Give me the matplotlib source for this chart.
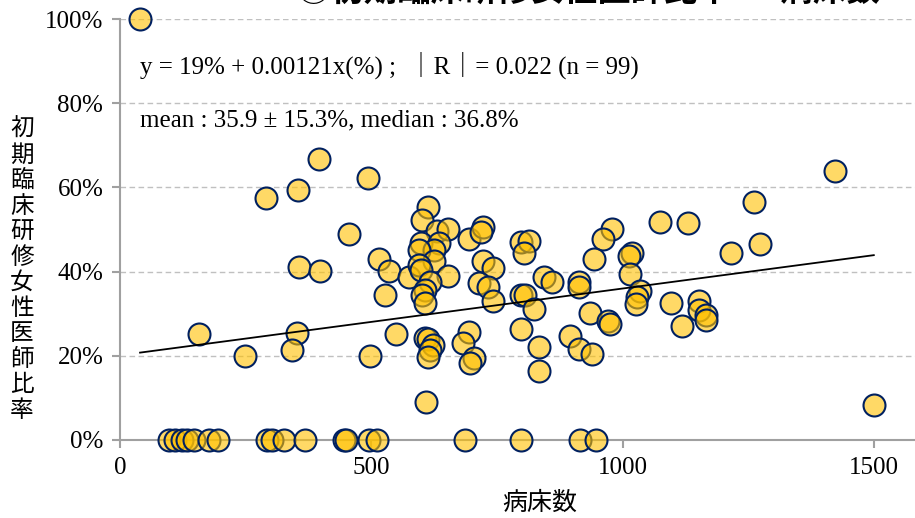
import matplotlib
matplotlib.use("Agg")
import matplotlib.pyplot as plt
import numpy as np
from matplotlib.ticker import FuncFormatter

# Colors
point_face = (1.0, 0.753, 0.0, 0.6)
point_edge = '#002060'
grid_color = '#c0c0c0'
spine_color = '#a0a0a0'

latin = ['Liberation Serif', 'Noto Sans CJK JP']
cjk = ['Noto Sans CJK JP', 'DejaVu Sans']

# beds per hospital / share of female junior residents (%)
beds = [
    40, 291, 355, 396, 493, 455, 357, 398, 157, 248, 353, 342, 516, 536, 527, 549, 498, 576,
    612, 601, 630, 652, 599, 635, 625, 596, 625, 596, 599, 652, 616, 606, 602, 606,
    606, 612, 622, 616, 612, 609,
    694, 722, 718, 722, 742, 715, 732, 742, 695, 682, 705, 697,
    798, 813, 803, 843, 860, 798, 805, 823, 798, 833, 833,
    979, 962, 944, 1019, 1012, 1014, 1034, 1028, 1027, 1097, 1119, 1152, 1153, 1166, 1166,
    914, 914, 936, 971, 976, 896, 914, 939, 1074, 1131,
    1262, 1274, 1216, 1422, 1500,
    98, 110, 124, 133, 147, 177, 195, 293, 303, 327, 369, 446, 450, 496, 512, 687, 799, 916, 948,
]
ratio = [
    100, 57.4, 59.3, 66.7, 62.2, 49.0, 41.0, 40.1, 25.1, 20.0, 25.3, 21.4, 43.0, 40.1, 34.4, 25.2, 20.0, 38.6,
    55.3, 52.3, 49.6, 50.1, 46.7, 46.7, 45.1, 45.1, 42.4, 41.6, 40.4, 39.0, 37.6, 35.6, 34.4, 32.6,
    24.2, 23.9, 22.6, 21.4, 19.8, 9.0,
    47.7, 50.7, 49.5, 42.5, 40.8, 37.2, 36.3, 32.9, 25.7, 23.0, 19.4, 18.2,
    47.1, 47.3, 44.3, 38.8, 37.6, 34.4, 34.4, 31.0, 26.4, 22.0, 16.5,
    50.1, 47.7, 42.9, 44.3, 43.7, 39.4, 35.4, 34.0, 32.3, 32.6, 27.1, 32.9, 30.9, 29.7, 28.5,
    37.6, 36.3, 30.1, 28.3, 27.6, 24.8, 21.5, 20.4, 51.7, 51.6,
    56.6, 46.5, 44.5, 64.0, 8.3,
    0, 0, 0, 0, 0, 0, 0, 0, 0, 0, 0, 0, 0, 0, 0, 0, 0, 0, 0,
]

fit_text = 'y = 19% + 0.00121x(%) ;  ｜R｜= 0.022 (n = 99)'
stat_text = 'mean : 35.9 ± 15.3%, median : 36.8%'
title_text = '③初期臨床研修女性医師比率 － 病床数'
ylabel_text = '初期臨床研修女性医師比率'
xlabel_text = '病床数'

x = np.array(beds, dtype=float)
y = np.array(ratio, dtype=float) / 100.0

fig = plt.figure(figsize=(9.15, 5.18), dpi=100)
ax = fig.add_axes([0.1311, 0.1506, 0.8689, 0.8127])

ax.set_xlim(0, 1582)
ax.set_ylim(0, 1.0)

ax.yaxis.grid(True, linestyle=(0, (4, 2.5)), color=grid_color, linewidth=1.0)
ax.set_axisbelow(True)

ax.scatter(x, y, s=250, facecolors=[point_face], edgecolors=point_edge,
           linewidths=1.5, zorder=3, clip_on=False)

# least squares trend over the bed range
coef = np.polyfit(x, y, 1)
xs = np.array([x.min(), x.max()])
ax.plot(xs, np.polyval(coef, xs), color='black', linewidth=1.3, zorder=4)

for side in ['top', 'right']:
    ax.spines[side].set_visible(False)
for side in ['left', 'bottom']:
    ax.spines[side].set_color(spine_color)
    ax.spines[side].set_linewidth(1.5)

ax.set_xticks([0, 500, 1000, 1500])
ax.set_yticks([0, 0.2, 0.4, 0.6, 0.8, 1.0])
ax.yaxis.set_major_formatter(FuncFormatter(lambda v, p: '%d%%' % round(v * 100)))
ax.tick_params(axis='both', direction='out', length=6, width=1.5, color=spine_color,
               labelsize=18, pad=6)
for lab in ax.get_xticklabels() + ax.get_yticklabels():
    lab.set_family(latin)

ax.text(0.025, 0.89, fit_text, transform=ax.transAxes, fontsize=18,
        family=latin, va='center', ha='left')
ax.text(0.025, 0.76, stat_text, transform=ax.transAxes, fontsize=18,
        family=latin, va='center', ha='left')

fig.text(22 / 915, 1 - 270 / 518, '\n'.join(ylabel_text), fontsize=17, family=cjk,
         ha='center', va='center', linespacing=1.14)
fig.text(540 / 915, 1 - 503 / 518, xlabel_text, fontsize=18, family=cjk,
         ha='center', va='center')
fig.text(297 / 915, 1 - 8 / 518, title_text, fontsize=24, family=cjk,
         fontweight='bold', ha='left', va='bottom')

fig.savefig('out.png', dpi=100)
